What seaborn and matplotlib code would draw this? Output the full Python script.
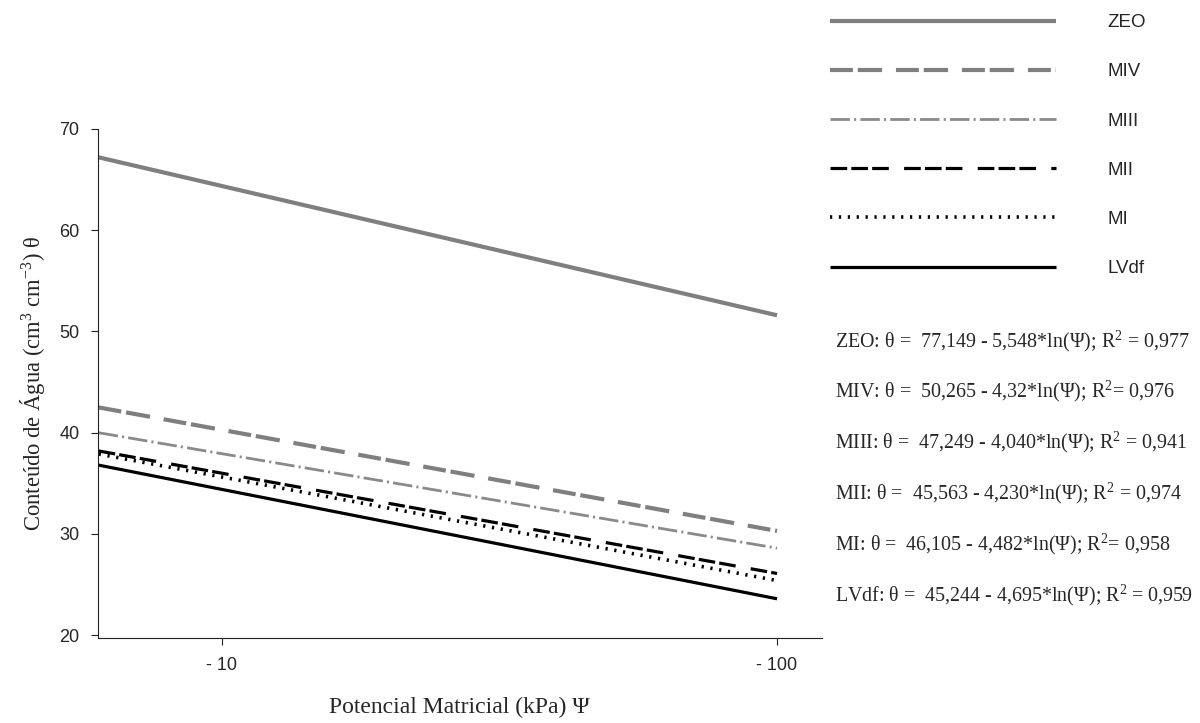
import numpy as np
import pandas as pd
import seaborn as sns
import matplotlib.pyplot as plt

# dados (extremos das retas, psi em kPa, em modulo)
psi = [6, 100]
zeo = [67.2, 51.6]
miv = [42.5, 30.3]
miii = [40.0, 28.6]
mii = [38.2, 26.1]
mi = [37.9, 25.4]
lvdf = [36.8, 23.6]

series = ['ZEO', 'MIV', 'MIII', 'MII', 'MI', 'LVdf']
valores = [zeo, miv, miii, mii, mi, lvdf]

equacoes = [
    r'ZEO: θ =  77,149 - 5,548*ln(Ψ); R$^2$ = 0,977',
    r'MIV: θ =  50,265 - 4,32*ln(Ψ); R$^2$= 0,976',
    r'MIII: θ =  47,249 - 4,040*ln(Ψ); R$^2$ = 0,941',
    r'MII: θ =  45,563 - 4,230*ln(Ψ); R$^2$ = 0,974',
    r'MI: θ =  46,105 - 4,482*ln(Ψ); R$^2$= 0,958',
    r'LVdf: θ =  45,244 - 4,695*ln(Ψ); R$^2$ = 0,959',
]

xticks = [10, 100]
xticklabels = ['- 10', '- 100']
yticks = [20, 30, 40, 50, 60, 70]

sns.set_style('ticks')
plt.rcParams['font.family'] = ['Liberation Sans', 'DejaVu Sans']
plt.rcParams['mathtext.fontset'] = 'custom'
plt.rcParams['mathtext.rm'] = 'Liberation Serif'
plt.rcParams['mathtext.it'] = 'Liberation Serif:italic'
plt.rcParams['lines.scale_dashes'] = False

estilos = {
    'ZEO': dict(color='#7f7f7f', linewidth=3.0, linestyle='-'),
    'MIV': dict(color='#7f7f7f', linewidth=3.0, linestyle=(0, (16.5, 3.5, 17.5, 10))),
    'MIII': dict(color='#8a8a8a', linewidth=2.0, linestyle=(0, (14, 3, 1.5, 3))),
    'MII': dict(color='black', linewidth=2.3, linestyle=(0, (12, 3, 12, 3, 12, 11))),
    'MI': dict(color='black', linewidth=2.6, linestyle=(0, (1.6, 4.8))),
    'LVdf': dict(color='black', linewidth=2.3, linestyle='-'),
}

df = pd.DataFrame({
    'psi': psi * len(series),
    'theta': np.concatenate(valores),
    'solo': np.repeat(series, len(psi)),
})

fig = plt.figure(figsize=(12, 7.23), dpi=100)
ax = fig.add_axes([0.08125, 0.1176, 0.60375, 0.704])

for s in series:
    sub = df[df['solo'] == s]
    sns.lineplot(data=sub, x='psi', y='theta', ax=ax, label=s,
                 solid_capstyle='butt', **estilos[s])

ax.set_xscale('log')
ax.set_xlim(5.97, 120.5)
ax.set_ylim(19.73, 70)
ax.set_xticks(xticks)
ax.set_xticklabels(xticklabels)
ax.minorticks_off()
ax.set_yticks(yticks)
ax.tick_params(labelsize=13, length=5, width=0.8, pad=8, color='#222222')
ax.tick_params(axis='x', pad=9)
for sp in ['left', 'bottom']:
    ax.spines[sp].set_linewidth(0.8)
    ax.spines[sp].set_color('#222222')
sns.despine(ax=ax)

ax.set_xlabel('Potencial Matricial (kPa) Ψ', family='Liberation Serif', fontsize=17, labelpad=16)
ax.set_ylabel(r'Conteúdo de Água (cm$^{3}$ cm$^{-3}$) θ', family='Liberation Serif', fontsize=16.3, labelpad=9)

handles, labels = ax.get_legend_handles_labels()
ax.get_legend().remove()
fig.legend(handles, labels, loc='upper left', bbox_to_anchor=(830 / 1200, 1 - 14 / 723),
           frameon=False, fontsize=13.5, handlelength=12.03, handletextpad=2.75,
           labelspacing=1.71, borderpad=0, borderaxespad=0)

ys = np.linspace(341, 595, len(equacoes))
for eq, y in zip(equacoes, ys):
    fig.text(835 / 1200, 1 - y / 723, eq, family='Liberation Serif', fontsize=14.4, va='center', ha='left')

fig.savefig('out.png', dpi=100)
